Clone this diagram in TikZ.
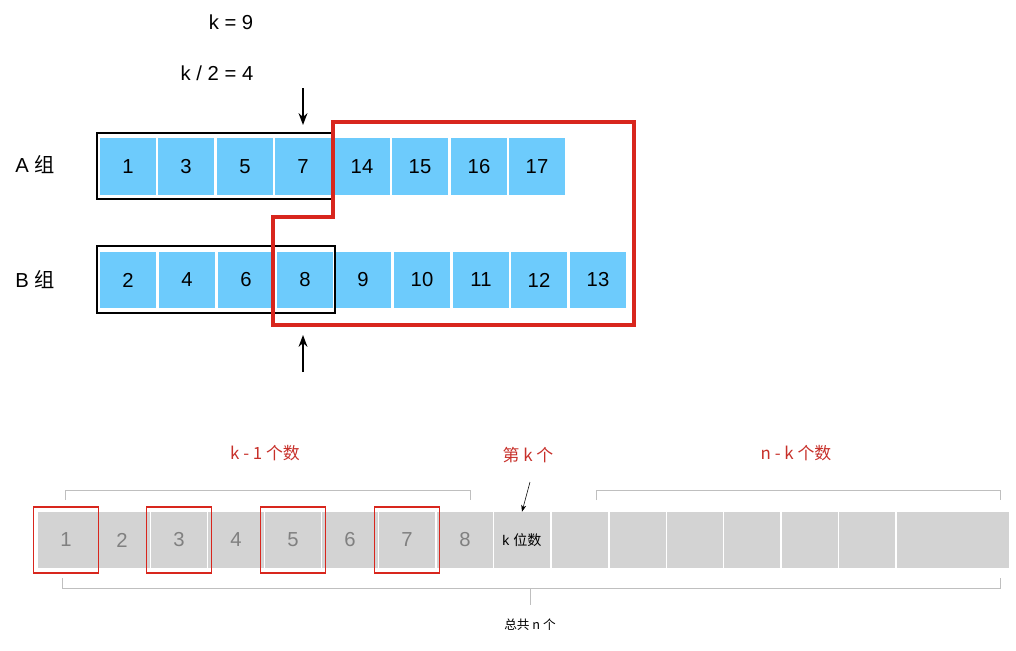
\documentclass[tikz,border=0pt]{standalone}
\usepackage{fontspec}
\setmainfont{Liberation Sans}
\newfontfamily\cjk{Noto Sans CJK SC}
\usepackage{tikz}
\usetikzlibrary{arrows.meta,positioning}
\definecolor{cellblue}{HTML}{6DCBFC}
\definecolor{cellgray}{HTML}{D3D3D3}
\definecolor{markred}{HTML}{D8261D}
\definecolor{textred}{HTML}{C7302A}
\tikzset{
  bluecell/.style={
    rectangle, fill=cellblue, minimum width=1.38cm, minimum height=1.42cm,
    inner sep=0pt, font=\Large
  },
  graycell/.style={
    rectangle, fill=cellgray, minimum width=1.38cm, minimum height=1.4cm,
    inner sep=0pt, font=\Large, text=black!50
  },
  groupbox/.style={draw, thick},
  pick/.style={draw=markred, thick, minimum width=1.62cm, minimum height=1.65cm},
  bracket/.style={draw=black!25},
  arrow/.style={-Stealth, very thick},
  label/.style={font=\Large},
  redlabel/.style={font=\large\cjk, text=textred},
}
\begin{document}
\begin{tikzpicture}[x=0.025cm, y=-0.025cm]
  \useasboundingbox (0,0) rectangle (1016,650);

  % Labels
  \node[label] (kval) at (231,22) {k = 9};
  \node[label] (khalf) at (217,73) {k / 2 = 4};
  \node[label] (ga) at (35,165) {A {\cjk 组}};
  \node[label] (gb) at (35,280) {B {\cjk 组}};

  % Group A
  \foreach \v/\x [count=\i] in {1/128,3/186,5/245,7/303,14/362,15/420,16/479,17/537}
    \node[bluecell] (a\i) at (\x,166.5) {\v};
  % Group B
  \foreach \v/\x [count=\i] in {2/128,4/187,6/246,8/305,9/363,10/422,11/481,12/539,13/598}
    \node[bluecell] (b\i) at (\x,280) {\v};

  \draw[groupbox] (97,133) rectangle (333,199);
  \draw[groupbox] (97,246) rectangle (335,313);
  \draw[markred, line width=2.2pt]
    (333,122) -- (634,122) -- (634,325) -- (273,325) -- (273,217) -- (333,217) -- cycle;

  \coordinate (topin) at (303,88);
  \coordinate (botin) at (303,372);
  \draw[arrow] (topin) -- (303,125);
  \draw[arrow] (botin) -- (303,335);

  % Bottom row
  \foreach \v/\x [count=\i] in {1/66,2/122,3/179,4/236,5/293,6/350,7/407,8/465}
    \node[graycell] (c\i) at (\x,540) {\v};
  \node[graycell, text=black, font=\normalsize] (kth) at (522,540) {k {\cjk 位数}};
  \foreach \x [count=\i] in {580,638,695,752,810,867,925,981}
    \node[graycell] (r\i) at (\x,540) {};
  \foreach \i in {1,3,5,7}
    \node[pick] at (c\i) {};

  % Brackets
  \draw[bracket] (65,500) -- (65,490) -- (470,490) -- (470,500);
  \draw[bracket] (596,500) -- (596,490) -- (1000,490) -- (1000,500);
  \draw[bracket] (62,578) -- (62,588) -- (1000,588) -- (1000,578);
  \draw[bracket] (530,588) -- (530,605);

  \node[redlabel] (left) at (265,453) {k - 1 个数};
  \node[redlabel] (kmark) at (528,455) {第 k 个};
  \node[redlabel] (right) at (796,453) {n - k 个数};
  \node[font=\small\cjk] (total) at (530,625) {总共 n 个};
  \draw[-Stealth] (530,482) -- (kth.north);
\end{tikzpicture}
\end{document}
